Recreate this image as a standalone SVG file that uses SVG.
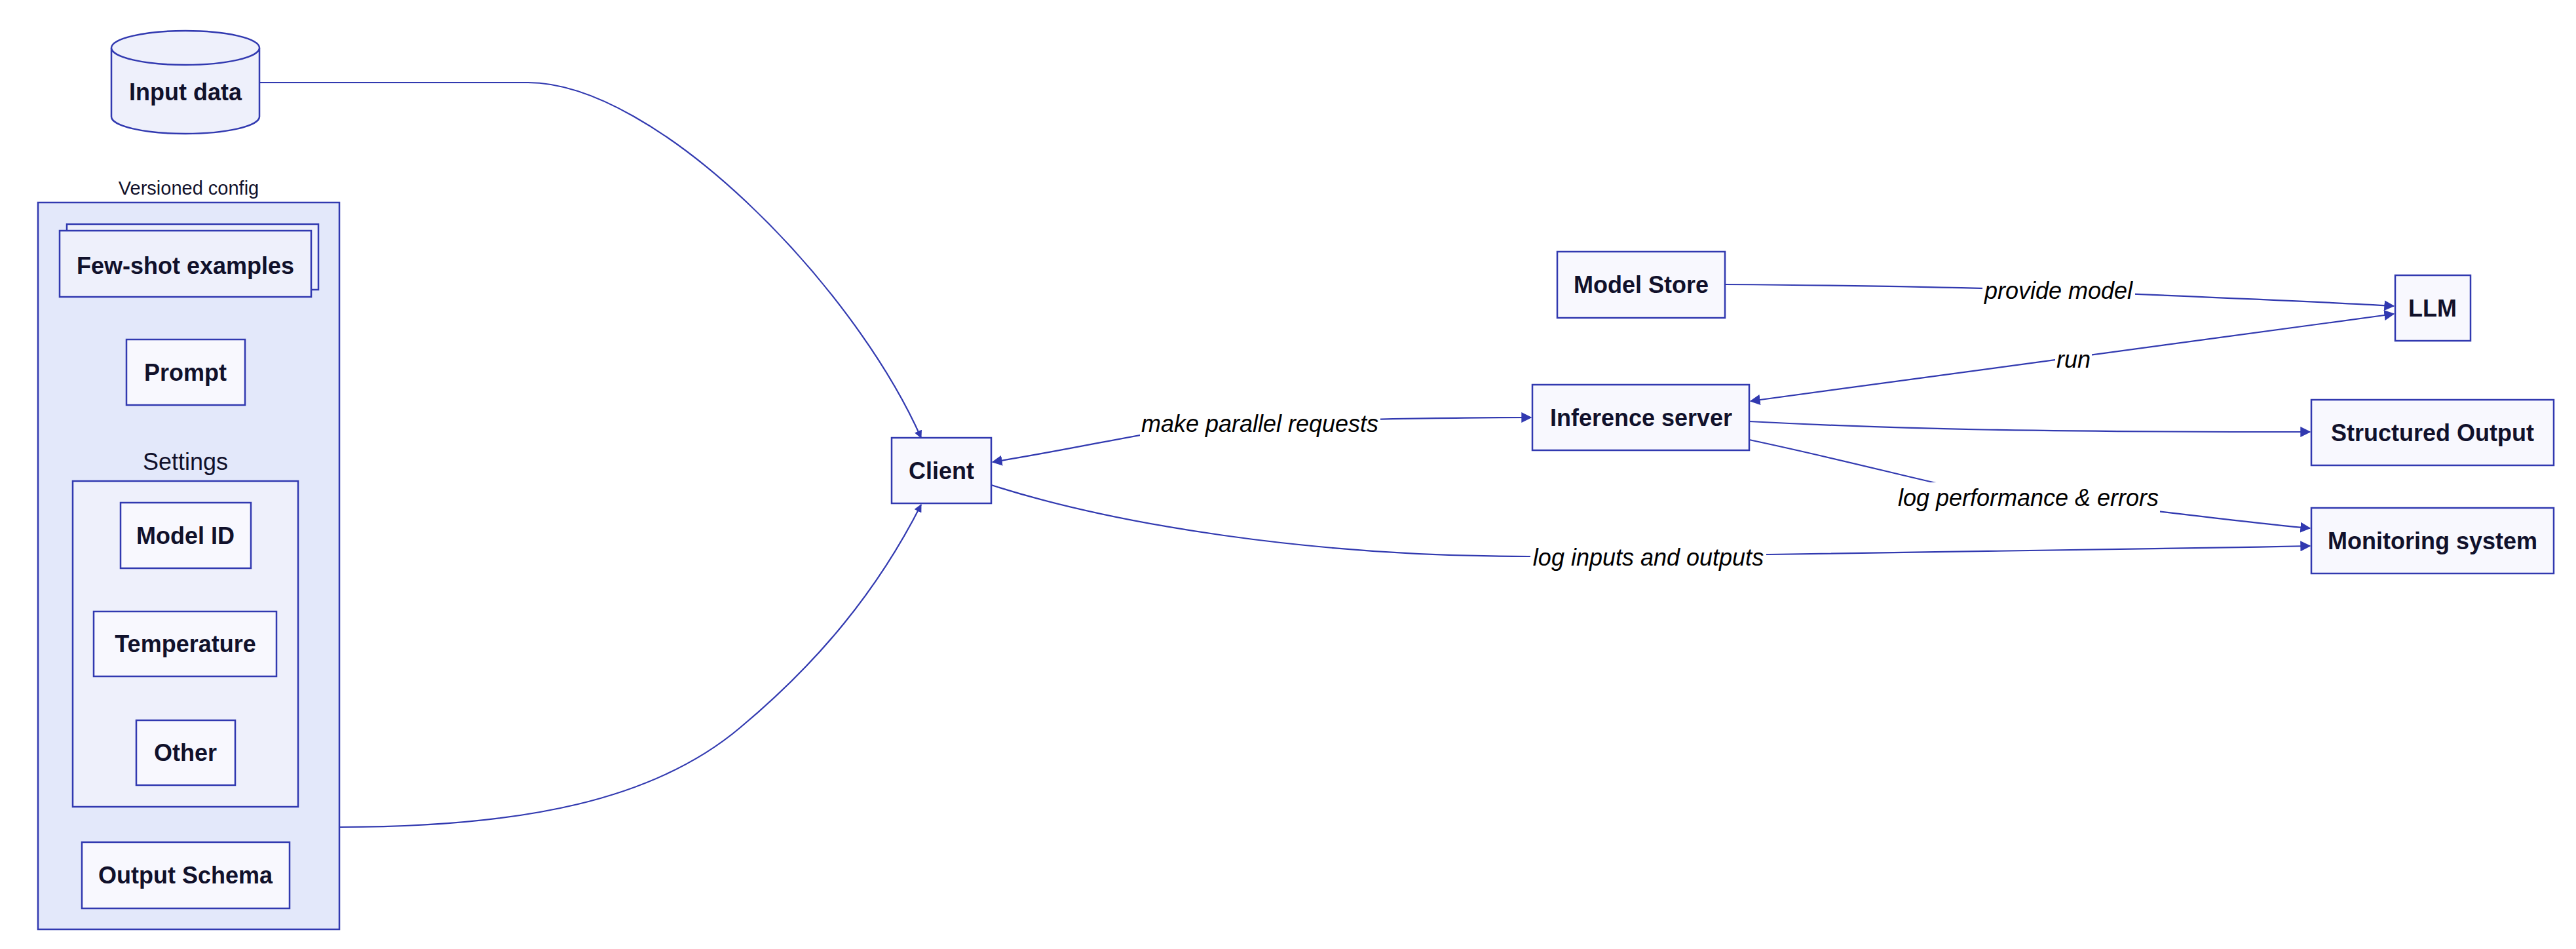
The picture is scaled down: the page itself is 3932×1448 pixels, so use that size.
<svg xmlns="http://www.w3.org/2000/svg" width="3932" height="1448" viewBox="0 0 3932 1448">
<defs>
<style>
.node{fill:#f8f8fe;stroke:#3139b0;stroke-width:2.5}
.mid{fill:#eef0fb;stroke:#3139b0;stroke-width:2.5}
.outer{fill:#e3e8fa;stroke:#3139b0;stroke-width:2.5}
.lbl{font-family:"Liberation Sans",Arial,sans-serif;font-weight:bold;font-size:36px;fill:#11112b;text-anchor:middle}
.title{font-family:"Liberation Sans",Arial,sans-serif;font-size:36px;fill:#11112b;text-anchor:middle}
.small{font-family:"Liberation Sans",Arial,sans-serif;font-size:29px;fill:#11112b;text-anchor:middle}
.edge{fill:none;stroke:#3139b0;stroke-width:2.2}
.elbl{font-family:"Liberation Sans",Arial,sans-serif;font-style:italic;font-size:36px;fill:#000;text-anchor:middle}
.ebg{fill:#ffffff}
</style>
<marker id="arr" viewBox="0 0 12 12" refX="11" refY="6" markerWidth="12" markerHeight="12" markerUnits="userSpaceOnUse" orient="auto-start-reverse">
<path d="M0,0 L12,6 L0,12 Z" fill="#3139b0"/>
</marker>
<marker id="arrL" viewBox="0 0 12 12" refX="11" refY="6" markerWidth="16" markerHeight="16" markerUnits="userSpaceOnUse" orient="auto-start-reverse">
<path d="M0,0 L12,6 L0,12 Z" fill="#3139b0"/>
</marker>
</defs>
<rect width="3932" height="1448" fill="#ffffff"/>

<g id="versioned-config">
<rect class="outer" x="58" y="309" width="460" height="1109"/>
<text class="small" x="288" y="297">Versioned config</text>
</g>
<g id="few-shot-examples">
<rect class="mid" x="102" y="342" width="384" height="100"/>
<rect class="mid" x="91" y="352" width="384" height="101"/>
<text class="lbl" x="283" y="418">Few-shot examples</text>
</g>
<g id="prompt">
<rect class="node" x="193" y="518" width="181" height="100"/>
<text class="lbl" x="283" y="581">Prompt</text>
</g>
<g id="settings">
<rect class="mid" x="111" y="734" width="344" height="497"/>
<text class="title" x="283" y="717">Settings</text>
</g>
<g id="model-id">
<rect class="node" x="184" y="767" width="199" height="100"/>
<text class="lbl" x="283" y="830">Model ID</text>
</g>
<g id="temperature">
<rect class="node" x="143" y="933" width="279" height="99"/>
<text class="lbl" x="283" y="995">Temperature</text>
</g>
<g id="other">
<rect class="node" x="208" y="1099" width="151" height="99"/>
<text class="lbl" x="283" y="1161">Other</text>
</g>
<g id="output-schema">
<rect class="node" x="125" y="1285" width="317" height="101"/>
<text class="lbl" x="283" y="1348">Output Schema</text>
</g>

<g id="input-data">
<path class="mid" d="M170,73 A113,26 0 0,1 396,73 L396,178 A113,26 0 0,1 170,178 Z"/>
<path class="mid" fill="none" d="M170,73 A113,26 0 0,0 396,73"/>
<text class="lbl" x="283" y="153">Input data</text>
</g>

<g id="client">
<rect class="node" x="1361" y="668" width="152" height="100"/>
<text class="lbl" x="1437" y="731">Client</text>
</g>
<g id="inference-server">
<rect class="node" x="2339" y="587" width="331" height="100"/>
<text class="lbl" x="2505" y="650">Inference server</text>
</g>
<g id="model-store">
<rect class="node" x="2377" y="384" width="256" height="101"/>
<text class="lbl" x="2505" y="447">Model Store</text>
</g>
<g id="llm">
<rect class="node" x="3656" y="420" width="115" height="100"/>
<text class="lbl" x="3713" y="483">LLM</text>
</g>
<g id="structured-output">
<rect class="node" x="3528" y="610" width="370" height="100"/>
<text class="lbl" x="3713" y="673">Structured Output</text>
</g>
<g id="monitoring-system">
<rect class="node" x="3528" y="775" width="370" height="100"/>
<text class="lbl" x="3713" y="838">Monitoring system</text>
</g>

<g id="connectors">
<path class="edge" marker-end="url(#arr)" d="M396,126 L806,126 C1000,126 1300,430 1406,668"/>
<path class="edge" marker-end="url(#arr)" d="M519,1262 C800,1262 1000,1220 1130,1110 C1250,1010 1340,900 1406,770"/>
<path class="edge" marker-start="url(#arrL)" marker-end="url(#arrL)" d="M1515,705 C1700,675 1800,645 1923,643 S2200,637 2337,637"/>
<path class="edge" marker-end="url(#arrL)" d="M1513,740 C1700,800 2000,849 2333,849 L2700,846 C3100,842 3300,838 3526,833"/>
<path class="edge" marker-end="url(#arrL)" d="M2633,434 C2900,436 3050,440 3142,444 S3500,458 3654,467"/>
<path class="edge" marker-start="url(#arrL)" marker-end="url(#arrL)" d="M2672,612 L3654,479"/>
<path class="edge" marker-end="url(#arrL)" d="M2670,643 C2900,655 3100,659 3526,659"/>
<path class="edge" marker-end="url(#arrL)" d="M2670,671 C2900,720 3000,755 3096,760 S3400,795 3526,806"/>

<rect class="ebg" x="1740" y="624" width="367" height="46"/>
<text class="elbl" x="1923" y="659">make parallel requests</text>
<rect class="ebg" x="2336" y="828" width="360" height="46"/>
<text class="elbl" x="2516" y="863">log inputs and outputs</text>
<rect class="ebg" x="3026" y="421" width="233" height="46"/>
<text class="elbl" x="3142" y="456">provide model</text>
<rect class="ebg" x="3137" y="526" width="56" height="46"/>
<text class="elbl" x="3165" y="561">run</text>
<rect class="ebg" x="2895" y="736" width="402" height="46"/>
<text class="elbl" x="3096" y="772">log performance &amp; errors</text>
</g>
</svg>
